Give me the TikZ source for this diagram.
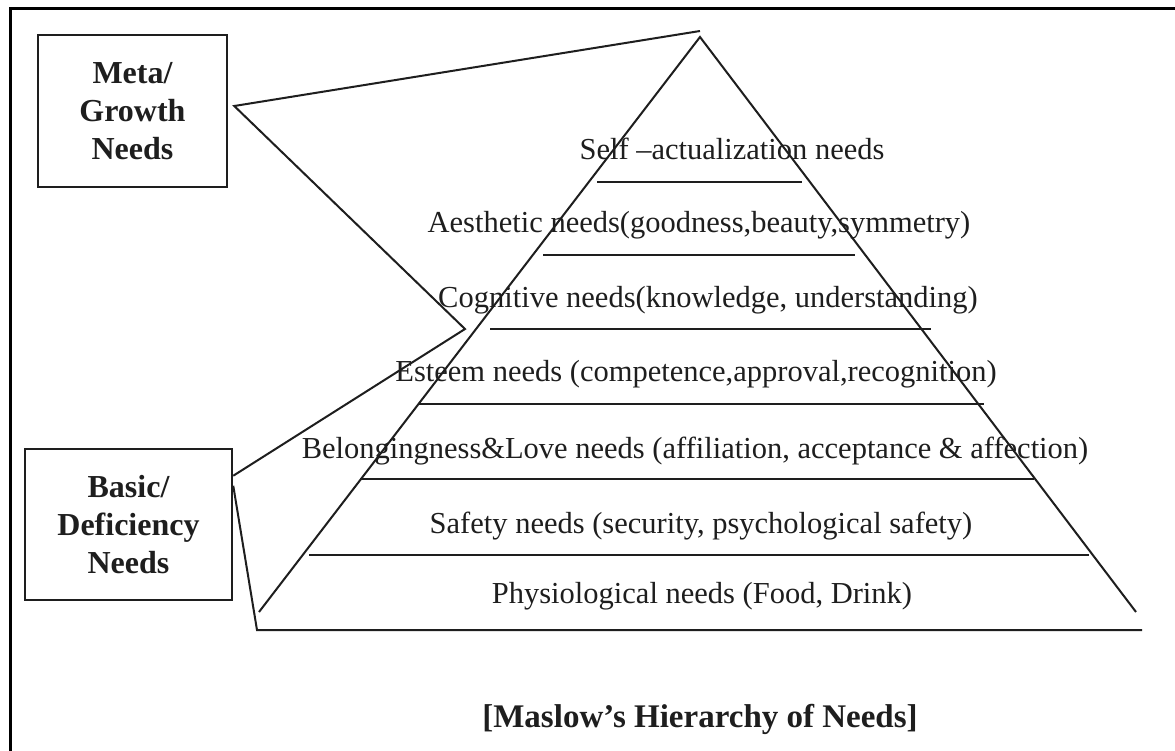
\documentclass[tikz,border=0pt]{standalone}
\usepackage{fontspec}
\setmainfont{Liberation Serif}
\usetikzlibrary{calc}
\definecolor{ink}{RGB}{30,30,30}
\begin{document}
\begin{tikzpicture}[x=1pt,y=-1pt,
  ln/.style={line width=2pt, draw=ink},
  lbl/.style={anchor=base, inner sep=0pt, text=ink, font=\fontsize{30.5}{36}\selectfont},
  sidebox/.style={draw=ink, line width=2.5pt, inner sep=0pt, align=center, text=ink,
    font=\bfseries\fontsize{32}{38}\selectfont},
  titlefont/.style={anchor=base, inner sep=0pt, text=ink, font=\bfseries\fontsize{33}{40}\selectfont}
]
\useasboundingbox (0,0) rectangle (1175,751);
\fill[white] (0,0) rectangle (1175,751);
\begin{scope}
  \clip (0,0) rectangle (1175,751);
  \draw[line width=3pt] (10,9) rectangle (1200,790);
\end{scope}

% side boxes
\node[sidebox, minimum width=189pt, minimum height=152pt] (meta) at (132.5,111) {Meta/\\Growth\\Needs};
\node[sidebox, minimum width=207pt, minimum height=151pt] (basic) at (128.5,524.5) {Basic/\\Deficiency\\Needs};

% key points
\coordinate (btop) at (700,31);
\coordinate (pinch) at (465,329);
\coordinate (bbl) at (257,630);
\coordinate (bbr) at (1142,630);
\coordinate (apex) at (700,37);
\coordinate (pl) at (259,612);
\coordinate (pr) at (1136,612);

% brackets
\draw[ln] (btop) -- ($(meta.east)+(6,-5)$) -- (pinch) -- ($(basic.north east)+(0,28)$);
\draw[ln] ($(basic.north east)+(0,38)$) -- (bbl) -- (bbr);

% pyramid
\draw[ln] (pl) -- (apex) -- (pr);
\draw[ln] (597,182) -- (802,182);
\draw[ln] (543,255) -- (855,255);
\draw[ln] (490,329) -- (931,329);
\draw[ln] (419,404) -- (984,404);
\draw[ln] (360,479) -- (1034,479);
\draw[ln] (309,555) -- (1089,555);

% labels
\node[lbl] (t1) at (732,160) {Self –actualization needs};
\node[lbl] (t2) at (699,233) {Aesthetic needs(goodness,beauty,symmetry)};
\node[lbl] (t3) at (708,307) {Cognitive needs(knowledge, understanding)};
\node[lbl] (t4) at (696,381) {Esteem needs (competence,approval,recognition)};
\node[lbl] (t5) at (695,458) {Belongingness\&Love needs (affiliation, acceptance \& affection)};
\node[lbl] (t6) at (701,533) {Safety needs (security, psychological safety)};
\node[lbl] (t7) at (702,603) {Physiological needs (Food, Drink)};

\node[titlefont] (title) at (700,727) {[Maslow’s Hierarchy of Needs]};
\end{tikzpicture}
\end{document}
